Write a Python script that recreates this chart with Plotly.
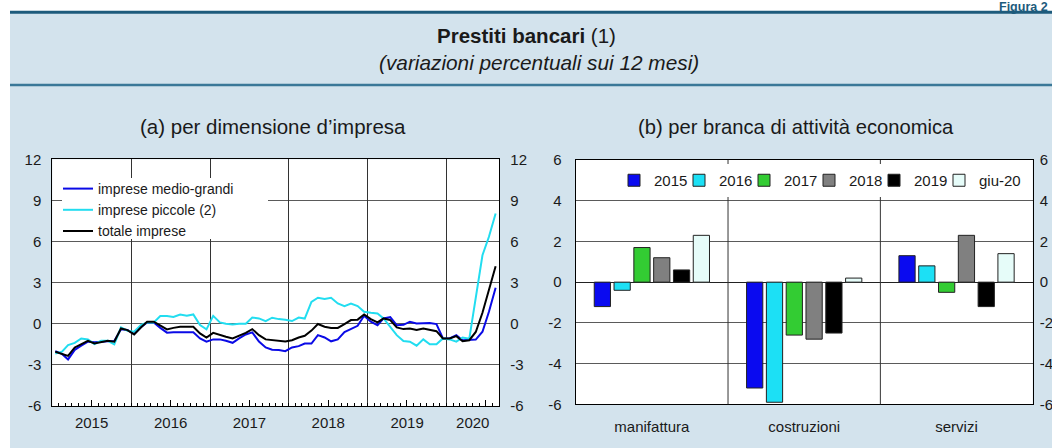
import pandas as pd
import plotly.graph_objects as go

W, H = 1052, 448

# (a) variazioni percentuali sui 12 mesi, gen 2015 - ago 2020
mesi = pd.date_range("2015-01-01", "2020-08-01", freq="MS") + pd.Timedelta(days=14)

medio_grandi = [
    -2.0, -2.2, -2.6, -1.9, -1.6, -1.3, -1.35, -1.3, -1.25, -1.25, -0.4, -0.45,
    -0.75, -0.25, 0.1, 0.1, -0.3, -0.65, -0.62, -0.62, -0.62, -0.62, -1.07, -1.3,
    -1.14, -1.14, -1.24, -1.39, -1.07, -0.78, -0.63, -1.3, -1.73, -1.9, -1.92, -2.0,
    -1.73, -1.63, -1.44, -1.44, -0.83, -1.0, -1.28, -1.14, -0.6, -0.35, -0.15, 0.58,
    0.15, -0.1, 0.39, 0.48, -0.1, -0.08, 0.15, 0.02, 0.02, 0.05, -0.02, -1.07,
    -1.07, -0.83, -1.2, -1.2, -1.15, -0.58, 0.88, 2.63,
]
piccole = [
    -2.17, -2.04, -1.56, -1.39, -1.07, -1.14, -1.48, -1.24, -1.24, -1.5, -0.27, -0.51,
    -0.58, -0.1, 0.1, 0.1, 0.56, 0.56, 0.5, 0.68, 0.58, 0.68, -0.1, -0.41,
    0.58, 0.1, 0.0, -0.05, 0.0, 0.0, 0.46, 0.39, 0.19, 0.44, 0.34, 0.3,
    0.2, 0.45, 0.38, 1.6, 1.9, 1.8, 1.9, 1.48, 1.29, 1.48, 1.29, 0.88,
    0.8, 0.75, 0.39, -0.27, -0.83, -1.26, -1.31, -1.6, -1.14, -1.5, -1.5, -1.07,
    -1.14, -1.3, -1.0, -1.1, 1.95, 5.0, 6.35, 8.05,
]
totale = [
    -2.04, -2.17, -2.34, -1.73, -1.5, -1.24, -1.43, -1.31, -1.24, -1.31, -0.34, -0.46,
    -0.78, -0.27, 0.15, 0.15, -0.1, -0.41, -0.3, -0.22, -0.22, -0.22, -0.7, -1.0,
    -0.66, -0.83, -0.95, -1.07, -0.88, -0.66, -0.39, -0.83, -1.14, -1.2, -1.22, -1.3,
    -1.2, -1.0, -0.88, -0.5, -0.02, -0.22, -0.3, -0.3, -0.02, 0.27, 0.3, 0.68,
    0.34, 0.1, 0.39, 0.27, -0.27, -0.39, -0.35, -0.46, -0.34, -0.46, -0.54, -1.07,
    -1.07, -0.9, -1.27, -1.2, -0.6, 0.8, 2.45, 4.2,
]
anni = ["2015", "2016", "2017", "2018", "2019", "2020"]
tick_a = [-6, -3, 0, 3, 6, 9, 12]

# (b) per branca di attività economica
branche = ["manifattura", "costruzioni", "servizi"]
periodi = ["2015", "2016", "2017", "2018", "2019", "giu-20"]
val_2015 = [-1.2, -5.2, 1.3]
val_2016 = [-0.4, -5.9, 0.8]
val_2017 = [1.7, -2.6, -0.5]
val_2018 = [1.2, -2.8, 2.3]
val_2019 = [0.6, -2.5, -1.2]
val_giu20 = [2.3, 0.2, 1.4]
tick_b = [-6, -4, -2, 0, 2, 4, 6]

FONT = "Liberation Sans, Arial, sans-serif"
GRID = "#5a5a5a"
BG = "#d3e3ed"
TEAL = "#1d5b7c"


def px(x):
    return x / W


def py(y):
    return 1 - y / H


A_X = [px(52.3), px(499.3)]
A_Y = [py(406), py(159.3)]
B_X = [px(575.7), px(1032.7)]
B_Y = [py(404.3), py(160)]

fig = go.Figure()

# ogni serie su una coppia di assi sovrapposti, così vengono disegnati
# anche la griglia degli anni, le etichette degli anni e l'asse destro
serie_a = [
    ("imprese medio-grandi", medio_grandi, "#0a0ae6", "x", "y"),
    ("imprese piccole (2)", piccole, "#22ddf0", "x3", "y3"),
    ("totale imprese", totale, "#000000", "x4", "y"),
]
for nome, valori, colore, xa, ya in serie_a:
    fig.add_trace(go.Scatter(
        x=mesi, y=valori, name=nome, mode="lines",
        line=dict(color=colore, width=2),
        xaxis=xa, yaxis=ya, legend="legend",
    ))

colori_barre = ["#0a0af0", "#1ce0f5", "#33cc33", "#808080", "#000000", "#e6fcf9"]
for periodo, valori, colore in zip(
    periodi, [val_2015, val_2016, val_2017, val_2018, val_2019, val_giu20], colori_barre
):
    fig.add_trace(go.Bar(
        x=branche, y=valori, name=periodo,
        marker=dict(color=colore, line=dict(color="#222222", width=1)),
        xaxis="x2", yaxis="y2", legend="legend2",
        legendwidth=44 if periodo == "giu-20" else None,
    ))

# traccia vuota di appoggio per l'asse destro del pannello (b)
fig.add_trace(go.Scatter(
    x=branche[:1], y=[None], xaxis="x2", yaxis="y4",
    showlegend=False, hoverinfo="skip",
))

# etichette anni centrate sulla parte visibile di ogni anno
pos_anni = [f"{a}-07-02" for a in anni[:-1]] + ["2020-05-01"]
inizio_anni = [f"{a}-01-01" for a in anni[1:]]
luglio = [f"{a}-07-01" for a in anni]
rng_a = ["2015-01-01", "2020-09-01"]

tick_font = dict(family=FONT, size=15, color="#1a1a1a")


def asse_y(valori, **kw):
    # etichette con trattino semplice, come nell'originale
    base = dict(tickvals=valori, ticktext=[str(v) for v in valori],
                range=[valori[0], valori[-1]], ticks="", tickfont=tick_font)
    base.update(kw)
    return base


fig.update_layout(
    width=W, height=H, margin=dict(l=0, r=0, t=0, b=0, autoexpand=False),
    paper_bgcolor=BG, plot_bgcolor="white",
    font=dict(family=FONT, color="#1a1a1a"),
    barmode="group", bargap=0.22, bargroupgap=0.18,
    xaxis=dict(
        domain=A_X, anchor="y", type="date", range=rng_a,
        tickvals=luglio, ticks="inside", ticklen=6, tickcolor="black",
        showticklabels=False, showgrid=False,
        minor=dict(dtick="M1", tick0="2015-01-01", ticks="inside", ticklen=3,
                   tickcolor="black", showgrid=False),
        showline=True, mirror=True, linecolor="black", linewidth=1,
    ),
    xaxis3=dict(
        overlaying="x", anchor="y", type="date", range=rng_a,
        tickvals=inizio_anni, showgrid=True, gridcolor="#333333", gridwidth=1,
        ticks="", showticklabels=False,
    ),
    xaxis4=dict(
        overlaying="x", anchor="y", side="bottom", type="date", range=rng_a,
        tickvals=pos_anni, ticktext=anni, showgrid=False, ticks="",
        tickfont=tick_font, ticklabelstandoff=6,
    ),
    yaxis=asse_y(
        tick_a, domain=A_Y, anchor="x",
        showgrid=True, gridcolor=GRID, gridwidth=1, zeroline=False,
        showline=True, mirror=True, linecolor="black", linewidth=1,
        ticklabelstandoff=7,
    ),
    yaxis3=asse_y(
        tick_a, overlaying="y", anchor="x", side="right",
        showgrid=False, zeroline=False, ticklabelstandoff=10,
    ),
    xaxis2=dict(
        domain=B_X, anchor="y2", type="category", showgrid=False, ticks="",
        showline=True, mirror=True, linecolor="black", linewidth=1,
        tickfont=tick_font, ticklabelstandoff=9,
    ),
    yaxis2=asse_y(
        tick_b, domain=B_Y, anchor="x2",
        showgrid=True, gridcolor=GRID, gridwidth=1,
        zeroline=True, zerolinecolor="#222222", zerolinewidth=1,
        showline=True, mirror=True, linecolor="black", linewidth=1,
        ticklabelstandoff=10,
    ),
    yaxis4=asse_y(
        tick_b, overlaying="y2", anchor="x2", side="right",
        showgrid=False, zeroline=False, ticklabelstandoff=6,
    ),
    legend=dict(
        x=px(58), y=py(173), xanchor="left", yanchor="top",
        bgcolor="rgba(0,0,0,0)", borderwidth=0, itemwidth=30,
        font=dict(family=FONT, size=14, color="#1a1a1a"),
        tracegroupgap=0,
    ),
    legend2=dict(
        orientation="h", x=px(614), y=py(164), xanchor="left", yanchor="top",
        bgcolor="white", borderwidth=0, itemwidth=30, entrywidth=20,
        font=dict(family=FONT, size=15, color="#1a1a1a"),
    ),
)

shapes = [
    # margini bianchi attorno al riquadro azzurro
    dict(type="rect", xref="paper", yref="paper", x0=0, x1=px(10), y0=0, y1=1,
         fillcolor="white", line=dict(width=0), layer="below"),
    dict(type="rect", xref="paper", yref="paper", x0=0, x1=1, y0=py(11), y1=1,
         fillcolor="white", line=dict(width=0), layer="below"),
    dict(type="line", xref="paper", yref="paper", x0=px(10), x1=1, y0=py(12.3), y1=py(12.3),
         line=dict(color=TEAL, width=3)),
    dict(type="line", xref="paper", yref="paper", x0=px(10), x1=1, y0=py(85), y1=py(85),
         line=dict(color="#3a7898", width=2.5)),
    # fondo bianco della legenda (a)
    dict(type="rect", xref="paper", yref="paper", x0=px(62), x1=px(268), y0=py(239), y1=py(178),
         fillcolor="white", line=dict(width=0), layer="above"),
]
for sep in [0.5, 1.5]:
    shapes.append(dict(type="line", xref="x2", yref="paper", x0=sep, x1=sep,
                       y0=B_Y[0], y1=B_Y[1],
                       line=dict(color="#333333", width=1), layer="above"))
fig.update_layout(shapes=shapes)

annotations = [
    dict(text="<b>Prestiti bancari</b> (1)", x=px(526), y=py(35), font=dict(size=20.5)),
    dict(text="<i>(variazioni percentuali sui 12 mesi)</i>", x=px(539), y=py(62), font=dict(size=20.8)),
    dict(text="(a) per dimensione d’impresa", x=px(273), y=py(127), font=dict(size=20.5)),
    dict(text="(b) per branca di attività economica", x=px(796), y=py(127), font=dict(size=20.2)),
    dict(text="<b>Figura 2</b>", x=px(1050), y=py(6.5), xanchor="right",
         font=dict(size=12.5, color=TEAL)),
]
for a in annotations:
    a.setdefault("xanchor", "center")
    a.update(xref="paper", yref="paper", yanchor="middle", showarrow=False)
    a["font"] = dict(family=FONT, color=a["font"].get("color", "#1a1a1a"), size=a["font"]["size"])
fig.update_layout(annotations=annotations)

fig.write_html(
    "out.html",
    config={"displayModeBar": False},
    post_script="document.body.style.margin='0';",
)
